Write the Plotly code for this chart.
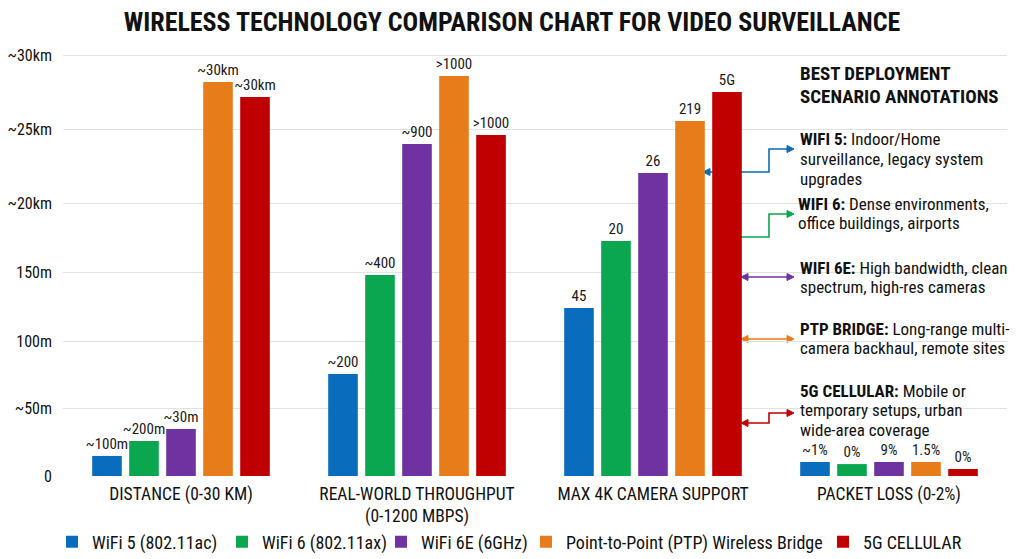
import plotly.graph_objects as go

# ---------------- data ----------------
categories = ["DISTANCE (0-30 KM)", "REAL-WORLD THROUGHPUT<br>(0-1200 MBPS)",
              "MAX 4K CAMERA SUPPORT", "PACKET LOSS (0-2%)"]
series_names = ["WiFi 5 (802.11ac)", "WiFi 6 (802.11ax)", "WiFi 6E (6GHz)",
                "Point-to-Point (PTP) Wireless Bridge", "5G CELLULAR"]
wifi5 = [14.3, 72.7, 119.7, 10]
wifi6 = [24.9, 143.2, 167.5, 8.5]
wifi6e = [33.5, 236.6, 216, 10]
ptp = [280.8, 285, 253, 10]
cell5g = [270, 243, 273.6, 5]
wifi5_labels = ["~100m", "~200", "45", "~1%"]
wifi6_labels = ["~200m", "~400", "20", "0%"]
wifi6e_labels = ["~30m", "~900", "26", "9%"]
ptp_labels = ["~30km", ">1000", "219", "1.5%"]
cell5g_labels = ["~30km", ">1000", "5G", "0%"]
ytick_vals = [0, 48, 96, 145, 194, 247, 300]
ytick_text = ["0", "~50m", "100m", "150m", "~20km", "~25km", "~30km"]
colors = ["#0a6cbc", "#0aa650", "#7032a0", "#e77c1a", "#c00000"]

annot_heading = ["<b>BEST DEPLOYMENT</b>", "<b>SCENARIO ANNOTATIONS</b>"]
annot_texts = [
    ["<b>WIFI 5:</b> Indoor/Home", "surveillance, legacy system", "upgrades"],
    ["<b>WIFI 6:</b> Dense environments,", "office buildings, airports"],
    ["<b>WIFI 6E:</b> High bandwidth, clean", "spectrum, high-res cameras"],
    ["<b>PTP BRIDGE:</b> Long-range multi-", "camera backhaul, remote sites"],
    ["<b>5G CELLULAR:</b> Mobile or", "temporary setups, urban", "wide-area coverage"],
]

FONT = "Roboto Condensed, Liberation Sans Narrow, Arial Narrow, Roboto, sans-serif"

# ---------------- geometry ----------------
W, H = 1024, 559
ML, MR, MT, MB = 63, 17, 48, 83
YMAX = 305
PW, PH = W - ML - MR, H - MT - MB
XR = (-0.5, 3.5)


def dx(p):  # pixel x -> x data (category units)
    return XR[0] + (p - ML) / PW * (XR[1] - XR[0])


def dy(p):  # pixel y -> y data
    return (H - MB - p) / PH * YMAX


def py(p):  # pixel y -> paper y
    return (H - MB - p) / PH


def pxp(p):  # pixel x -> paper x
    return (p - ML) / PW


fig = go.Figure()
all_vals = [wifi5, wifi6, wifi6e, ptp, cell5g]
all_labels = [wifi5_labels, wifi6_labels, wifi6e_labels, ptp_labels, cell5g_labels]
legend_ids = ["legend", "legend2", "legend3", "legend4", "legend5"]
legend_text_px = [89, 259, 418, 563, 860]
for name, vals, labs, col, lid in zip(series_names, all_vals, all_labels, colors, legend_ids):
    fig.add_trace(go.Bar(
        x=categories, y=vals, name=name, marker=dict(color=col, line=dict(width=0)),
        text=labs, textposition="outside", constraintext="none", cliponaxis=False,
        textfont=dict(family=FONT, size=15, color="#1a1a1a"), legend=lid,
        showlegend=True,
    ))

shapes = []
# white panel behind annotation area (hides gridlines there)
shapes.append(dict(type="rect", xref="x", yref="y", x0=dx(772), x1=dx(W - MR),
                   y0=dy(455), y1=dy(50), fillcolor="white", line=dict(width=0),
                   layer="below"))


def line_path(pts, col):
    d = "M " + " L ".join(f"{dx(a)},{dy(b)}" for a, b in pts)
    shapes.append(dict(type="path", xref="x", yref="y", path=d,
                       line=dict(color=col, width=1.6), layer="below"))


def head(tip_x, tip_y, direction, col):
    s = 7 if direction > 0 else -7
    pts = [(tip_x, tip_y), (tip_x - s, tip_y - 3.5), (tip_x - s, tip_y + 3.5)]
    d = "M " + " L ".join(f"{dx(a)},{dy(b)}" for a, b in pts) + " Z"
    shapes.append(dict(type="path", xref="x", yref="y", path=d,
                       fillcolor=col, line=dict(color=col, width=1), layer="below"))


# WiFi 5 (blue)
line_path([(708, 172), (769, 172), (769, 149), (788, 149)], colors[0])
head(794, 149, 1, colors[0])
head(703, 172, -1, colors[0])
# WiFi 6 (green)
line_path([(740, 237), (769, 237), (769, 214), (788, 214)], colors[1])
head(794, 214, 1, colors[1])
# WiFi 6E (purple)
line_path([(746, 277), (788, 277)], colors[2])
head(794, 277, 1, colors[2])
head(741, 277, -1, colors[2])
# PTP (orange)
line_path([(746, 339), (788, 339)], colors[3])
head(794, 339, 1, colors[3])
head(741, 339, -1, colors[3])
# 5G (red)
line_path([(746, 423), (769, 423), (769, 413), (788, 413)], colors[4])
head(794, 413, 1, colors[4])
head(741, 423, -1, colors[4])

annotations = []
for t, yy in zip(annot_heading, [73, 96]):
    annotations.append(dict(xref="paper", yref="paper", x=pxp(798), y=py(yy), xanchor="left",
                            yanchor="middle", align="left", showarrow=False, text=t,
                            font=dict(family=FONT, size=19, color="#111111")))
line_ys = [[139, 159, 179], [204, 223], [268, 287], [329, 348], [391, 410, 430]]
xs = [798, 796, 798, 798, 798]
for lines, ys, xx in zip(annot_texts, line_ys, xs):
    for t, yy in zip(lines, ys):
        annotations.append(dict(xref="paper", yref="paper", x=pxp(xx), y=py(yy),
                                xanchor="left", yanchor="middle", align="left",
                                showarrow=False, text=t,
                                font=dict(family=FONT, size=17, color="#111111")))

legend_common = dict(orientation="h", xanchor="left", yanchor="middle", y=py(542),
                     font=dict(family=FONT, size=18, color="#111111"),
                     bgcolor="rgba(0,0,0,0)", itemwidth=30, visible=True)
legend_layout = {lid: dict(legend_common, x=pxp(p - 37))
                 for lid, p in zip(legend_ids, legend_text_px)}

fig.update_layout(
    width=W, height=H,
    showlegend=True,
    margin=dict(l=ML, r=MR, t=MT, b=MB, autoexpand=False),
    paper_bgcolor="white", plot_bgcolor="white",
    title=dict(text="<b>WIRELESS TECHNOLOGY COMPARISON CHART FOR VIDEO SURVEILLANCE</b>",
               x=0.5, xanchor="center", y=1 - 22 / H, yanchor="middle",
               font=dict(family=FONT, size=26, color="#111111")),
    barmode="group", bargap=0.216, bargroupgap=0.2,
    font=dict(family=FONT, color="#111111"),
    xaxis=dict(range=list(XR), showgrid=False, zeroline=False, showline=False,
               tickfont=dict(family=FONT, size=17.5, color="#111111"), ticks="",
               ticklabelstandoff=5, automargin=False),
    yaxis=dict(range=[0, YMAX], tickvals=ytick_vals, ticktext=ytick_text,
               showgrid=True, gridcolor="#e2e2e2", gridwidth=1, zeroline=False,
               showline=False, ticks="", ticklabelstandoff=10, automargin=False,
               tickfont=dict(family=FONT, size=16, color="#111111")),
    shapes=shapes,
    annotations=annotations,
    **legend_layout,
)

fig.write_html("out.html")
